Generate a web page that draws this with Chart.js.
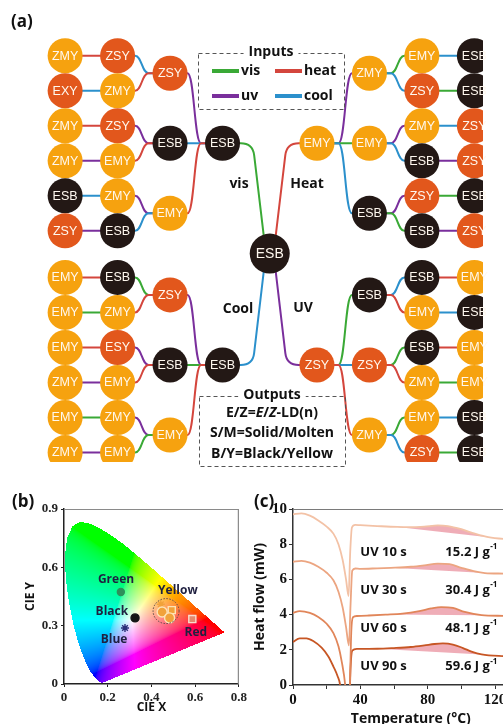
<!DOCTYPE html>
<html>
<head>
<meta charset="utf-8">
<title>Photo-thermal logic tree, CIE and DSC</title>
<script src="https://cdn.jsdelivr.net/npm/chart.js@4.4.1/dist/chart.umd.min.js"></script>
<style>
  html, body { margin: 0; padding: 0; background: #fff; }
  #page { position: relative; width: 503px; height: 724px; overflow: hidden; }
  canvas { position: absolute; }
</style>
</head>
<body>
<div id="page">
  <canvas id="treeChart" width="503" height="482" style="left:0;top:0;width:503px;height:482px"></canvas>
  <canvas id="cieChart" width="250" height="250" style="left:0;top:482px;width:250px;height:250px"></canvas>
  <canvas id="dscChart" width="290" height="250" style="left:250px;top:482px;width:290px;height:250px"></canvas>
</div>
<script>
// ---- (a) logic tree ----
const nodeLabels = ['ZMY','EXY','ZMY','ZMY','ESB','ZSY',
  'ZSY','ZMY','ZSY','EMY','ZMY','ESB',
  'ZSY','ESB','EMY','ESB',
  'ESB',
  'EMY','ZMY','EMY','ESB',
  'EMY','ZSY','ZMY','ESB','ZSY','ESB',
  'ESB','ESB','ZSY','ZSY','ESB','ZSY',
  'EMY','EMY','EMY','ZMY','EMY','ZMY',
  'ESB','ZMY','ESY','EMY','ZMY','EMY',
  'ZSY','ESB','EMY','ESB',
  'ZSY','ESB','ZSY','ZMY',
  'ESB','EMY','ESB','ZMY','EMY','ZSY',
  'EMY','ESB','EMY','EMY','ESB','ESB'];
const nodeCol = [0,0,0,0,0,0, 1,1,1,1,1,1, 2,2,2,3, 3.9, 4.8,5.8,5.8,5.8,
  6.8,6.8,6.8,6.8,6.8,6.8, 7.8,7.8,7.8,7.8,7.8,7.8,
  0,0,0,0,0,0, 1,1,1,1,1,1, 2,2,2,3, 4.8,5.8,5.8,5.8,
  6.8,6.8,6.8,6.8,6.8,6.8, 7.8,7.8,7.8,7.8,7.8,7.8];
const nodeRow = [0,1,2,3,4,5, 0,1,2,3,4,5, 0.5,2.5,4.5,2.5, 5.65, 2.5,0.5,2.5,4.5,
  0,1,2,3,4,5, 0,1,2,3,4,5,
  6.33,7.33,8.33,9.33,10.33,11.33, 6.33,7.33,8.33,9.33,10.33,11.33,
  6.83,8.83,10.83,8.83, 8.83,6.83,8.83,10.83,
  6.33,7.33,8.33,9.33,10.33,11.33, 6.33,7.33,8.33,9.33,10.33,11.33];
const CENTER = 16;

const edgeFrom = [0,1,2,3,4,5, 6,7,8,9,10,11, 12,13,14, 15, 16, 17,17,17,
  18,18,19,19,20,20, 21,22,23,24,25,26, 16, 45,46,47,
  39,40,41,42,43,44, 33,34,35,36,37,38, 16, 49,49,49,
  50,50,51,51,52,52, 53,54,55,56,57,58];
const edgeTo = [6,7,8,9,10,11, 12,12,13,13,14,14, 15,15,15, 16, 17, 18,19,20,
  21,22,23,24,25,26, 27,28,29,30,31,32, 48, 48,48,48,
  45,45,46,46,47,47, 39,40,41,42,43,44, 49, 50,51,52,
  53,54,55,56,57,58, 59,60,61,62,63,64];
const edgeInput = ['heat','cool','heat','uv','cool','uv', 'cool','heat','uv','heat','uv','cool',
  'uv','cool','heat', 'vis', 'heat', 'uv','vis','cool',
  'vis','cool','uv','cool','uv','vis', 'cool','vis','cool','uv','vis','uv', 'cool', 'uv','vis','heat',
  'vis','heat','uv','heat','uv','vis', 'heat','vis','heat','uv','vis','uv', 'uv', 'vis','cool','heat',
  'cool','heat','vis','heat','vis','cool', 'heat','cool','heat','vis','cool','vis'];

const inputColor = { vis: '#3aa936', heat: '#d4463d', uv: '#7a2f9c', cool: '#2b90cc' };
function nodeFill(lbl) {
  if (lbl[2] === 'B') return '#231815';
  if (lbl[1] === 'M') return '#f6a20f';
  return '#e2571c';
}

const edgePlugin = {
  id: 'edges',
  beforeDatasetsDraw(chart) {
    const { ctx, scales: { x, y } } = chart;
    const R = 17.5;
    const px = i => x.getPixelForValue(nodeCol[i]);
    const py = i => y.getPixelForValue(nodeRow[i]);
    ctx.save();
    ctx.lineWidth = 2;
    ctx.lineJoin = 'round';
    edgeFrom.forEach((a, k) => {
      const b = edgeTo[k];
      ctx.strokeStyle = inputColor[edgeInput[k]];
      ctx.beginPath();
      if (a === CENTER || b === CENTER) {
        const s = a === CENTER ? b : a;
        const sx = px(s), sy = py(s), cx = px(CENTER), cy = py(CENTER);
        const dx = Math.sign(sx - cx), dy = Math.sign(sy - cy);
        const ex = cx + 6 * dx, ey = cy + 18 * dy;
        const kx = ex + 11 * dx, ky = sy;
        const len = Math.hypot(ex - kx, ey - ky);
        const ux = (ex - kx) / len, uy = (ey - ky) / len;
        const rr = 12;
        ctx.moveTo(sx, sy);
        ctx.lineTo(kx + rr * dx, ky);
        ctx.quadraticCurveTo(kx, ky, kx + rr * ux, ky + rr * uy);
        ctx.lineTo(ex, ey);
        ctx.lineTo(cx, cy);
      } else if (Math.abs(nodeRow[a] - nodeRow[b]) < 0.01) {
        ctx.moveTo(px(a), py(a));
        ctx.lineTo(px(b), py(b));
      } else {
        const cc = nodeCol[CENTER];
        const parent = Math.abs(nodeCol[a] - cc) < Math.abs(nodeCol[b] - cc) ? a : b;
        const child = parent === a ? b : a;
        const x1 = px(child), y1 = py(child), x2 = px(parent), y2 = py(parent);
        const dir = Math.sign(x2 - x1);
        const sxp = x1 + R * dir, jx = x2 - (R + 4) * dir, mid = (sxp + jx) / 2;
        ctx.moveTo(x1, y1);
        ctx.lineTo(sxp, y1);
        ctx.bezierCurveTo(mid, y1, mid, y2, jx, y2);
        ctx.lineTo(x2, y2);
      }
      ctx.stroke();
    });
    ctx.restore();
  }
};

const nodeTextPlugin = {
  id: 'nodeText',
  afterDatasetsDraw(chart) {
    const { ctx } = chart;
    const meta = chart.getDatasetMeta(0);
    ctx.save();
    ctx.fillStyle = '#fff8ef';
    ctx.textAlign = 'center';
    ctx.textBaseline = 'middle';
    meta.data.forEach((pt, i) => {
      ctx.font = (i === CENTER ? '14px' : '12.5px') + ' "Liberation Sans", Arial, sans-serif';
      ctx.fillText(nodeLabels[i], pt.x, pt.y + 0.5);
    });
    ctx.restore();
  }
};

function dashedBox(ctx, l, t, r, b, title) {
  ctx.save();
  ctx.setLineDash([4, 3]);
  ctx.strokeStyle = '#555';
  ctx.lineWidth = 1;
  ctx.strokeRect(l + 0.5, t + 0.5, r - l, b - t);
  ctx.setLineDash([]);
  ctx.font = 'bold 14px "Open Sans"';
  const tw = ctx.measureText(title).width;
  const cx = (l + r) / 2;
  ctx.fillStyle = '#fff';
  ctx.fillRect(cx - tw / 2 - 5, t - 3, tw + 10, 7);
  ctx.fillStyle = '#111';
  ctx.textAlign = 'center';
  ctx.textBaseline = 'middle';
  ctx.fillText(title, cx, t - 1);
  ctx.restore();
}

const boxPlugin = {
  id: 'boxes',
  afterDraw(chart) {
    const ctx = chart.ctx;
    ctx.save();
    ctx.fillStyle = '#111';
    ctx.textBaseline = 'middle';
    ctx.font = 'bold 17px "Open Sans"';
    ctx.fillText('(a)', 11, 22);

    dashedBox(ctx, 198, 53, 344, 109, 'Inputs');
    [['vis', 212, 71], ['heat', 275, 71], ['uv', 212, 96], ['cool', 275, 96]].forEach(([n, lx, ly]) => {
      ctx.strokeStyle = inputColor[n];
      ctx.lineWidth = 4;
      ctx.beginPath(); ctx.moveTo(lx, ly); ctx.lineTo(lx + 27, ly); ctx.stroke();
      ctx.fillStyle = '#111';
      ctx.font = 'bold 14px "Open Sans"';
      ctx.textAlign = 'left';
      ctx.fillText(n, lx + 29, ly);
    });

    dashedBox(ctx, 199, 396, 345, 466, 'Outputs');
    ctx.fillStyle = '#111';
    ctx.textAlign = 'left';
    const bold = 'bold 14px "Open Sans"', ital = 'italic bold 14px "Open Sans"';
    const parts = [['E/Z=', bold], ['E', ital], ['/', bold], ['Z', ital], ['-LD(n)', bold]];
    let tot = 0;
    parts.forEach(([s, f]) => { ctx.font = f; tot += ctx.measureText(s).width; });
    let xx = 272 - tot / 2;
    parts.forEach(([s, f]) => { ctx.font = f; ctx.fillText(s, xx, 413); xx += ctx.measureText(s).width; });
    ctx.font = bold;
    ctx.textAlign = 'center';
    ctx.fillText('S/M=Solid/Molten', 272, 433);
    ctx.fillText('B/Y=Black/Yellow', 272, 454);

    ctx.fillText('vis', 239, 184);
    ctx.fillText('Heat', 307, 184);
    ctx.fillText('Cool', 238, 309);
    ctx.fillText('UV', 303, 308);
    ctx.restore();
  }
};

Chart.defaults.animation = false;
Chart.defaults.font.family = '"Open Sans", sans-serif';
Chart.defaults.plugins.legend.display = false;
Chart.defaults.plugins.tooltip.enabled = false;

new Chart(document.getElementById('treeChart'), {
  type: 'scatter',
  data: {
    datasets: [{
      data: nodeLabels.map((l, i) => ({ x: nodeCol[i], y: nodeRow[i] })),
      pointRadius: nodeLabels.map((l, i) => i === CENTER ? 20 : 17.5),
      pointBackgroundColor: nodeLabels.map(nodeFill),
      pointBorderWidth: 0
    }]
  },
  options: {
    responsive: false,
    events: [],
    layout: { padding: 0 },
    scales: {
      x: { display: false, min: -0.86, max: 7.965 },
      y: { display: false, reverse: true, min: -1.02, max: 11.6 }
    }
  },
  plugins: [edgePlugin, nodeTextPlugin, boxPlugin]
});

// ---- (b) CIE 1931 ----
const locusX = [0.1741,0.1714,0.1644,0.1566,0.1440,0.1241,0.1096,0.0913,0.0687,0.0454,0.0235,0.0082,0.0039,0.0139,0.0389,0.0743,0.1142,0.1547,0.1929,0.2296,0.2658,0.3016,0.3373,0.3731,0.4087,0.4441,0.4788,0.5125,0.5448,0.5752,0.6029,0.6270,0.6658,0.6915,0.7190,0.7347];
const locusY = [0.0050,0.0051,0.0109,0.0177,0.0297,0.0578,0.0868,0.1327,0.2007,0.2950,0.4127,0.5384,0.6548,0.7502,0.8120,0.8338,0.8262,0.8059,0.7816,0.7543,0.7243,0.6923,0.6589,0.6245,0.5896,0.5547,0.5202,0.4866,0.4544,0.4242,0.3965,0.3725,0.3340,0.3083,0.2809,0.2653];

const cieNames = ['Green','Black','Blue','Yellow','Yellow','Yellow','Yellow','Red'];
const cieX = [0.26, 0.325, 0.279, 0.443, 0.449, 0.493, 0.483, 0.587];
const cieY = [0.473, 0.34, 0.288, 0.41, 0.37, 0.38, 0.34, 0.334];
const tagNames = ['Green','Black','Blue','Yellow','Red'];
const tagX = [0.238, 0.219, 0.229, 0.521, 0.603];
const tagY = [0.535, 0.37, 0.231, 0.483, 0.267];

const markerStyle = ['circle','circle','star','star','circle','rect','circle','rect'];
const markerSize = [3.5, 4, 4, 4, 5, 5, 5, 5];
const markerFill = ['#2f8f5b','#161616','#2b2f7a','#f1a23a','#f1a23a','#f1a23a','#f1a23a','#e48a6c'];
const markerEdge = ['#2f8f5b','#161616','#2b2f7a','#f1a23a','#fde3b6','#fde3b6','#fde3b6','#f8dccd'];

function insideLocus(x, y) {
  let inside = false;
  for (let i = 0, j = locusX.length - 1; i < locusX.length; j = i++) {
    const xi = locusX[i], yi = locusY[i], xj = locusX[j], yj = locusY[j];
    if ((yi > y) !== (yj > y) && x < (xj - xi) * (y - yi) / (yj - yi) + xi) inside = !inside;
  }
  return inside;
}
function gam(c) { return c <= 0.0031308 ? 12.92 * c : 1.055 * Math.pow(c, 1 / 2.4) - 0.055; }
function xyToRgb(x, y) {
  const X = x / y, Y = 1, Z = (1 - x - y) / y;
  let r = Math.max(0, 3.2406 * X - 1.5372 * Y - 0.4986 * Z);
  let g = Math.max(0, -0.9689 * X + 1.8758 * Y + 0.0415 * Z);
  let b = Math.max(0, 0.0557 * X - 0.2040 * Y + 1.0570 * Z);
  const m = Math.max(r, g, b) || 1;
  return [gam(r / m) * 255, gam(g / m) * 255, gam(b / m) * 255];
}

const ciePlugin = {
  id: 'cie',
  beforeDatasetsDraw(chart) {
    const { ctx, chartArea: a, scales: { x, y } } = chart;
    const w = Math.round(a.right - a.left), h = Math.round(a.bottom - a.top);
    const off = document.createElement('canvas');
    off.width = w; off.height = h;
    const octx = off.getContext('2d');
    const img = octx.createImageData(w, h);
    for (let j = 0; j < h; j++) {
      for (let i = 0; i < w; i++) {
        const xv = x.getValueForPixel(a.left + i + 0.5), yv = y.getValueForPixel(a.top + j + 0.5);
        if (yv <= 0 || !insideLocus(xv, yv)) continue;
        const c = xyToRgb(xv, yv);
        const k = (j * w + i) * 4;
        img.data[k] = c[0]; img.data[k + 1] = c[1]; img.data[k + 2] = c[2]; img.data[k + 3] = 255;
      }
    }
    octx.putImageData(img, 0, 0);
    ctx.drawImage(off, a.left, a.top);
  },
  afterDatasetsDraw(chart) {
    const { ctx, chartArea: a, scales: { x, y } } = chart;
    ctx.save();
    ctx.strokeStyle = '#8a8a8a';
    ctx.lineWidth = 1.2;
    ctx.beginPath();
    ctx.moveTo(a.left, a.top + 0.5); ctx.lineTo(a.right - 0.5, a.top + 0.5); ctx.lineTo(a.right - 0.5, a.bottom);
    ctx.stroke();
    // dotted ring round the yellow group
    let mx = 0, my = 0, n = 0;
    cieNames.forEach((nm, i) => { if (nm === 'Yellow') { mx += cieX[i]; my += cieY[i]; n++; } });
    ctx.strokeStyle = '#5a4a4a';
    ctx.lineWidth = 1;
    ctx.setLineDash([1.5, 1.5]);
    ctx.beginPath();
    ctx.ellipse(x.getPixelForValue(mx / n), y.getPixelForValue(my / n), 13, 12.5, 0, 0, Math.PI * 2);
    ctx.stroke();
    ctx.setLineDash([]);
    ctx.fillStyle = '#1f2040';
    ctx.font = 'bold 12px "Open Sans"';
    ctx.textAlign = 'center';
    ctx.textBaseline = 'middle';
    tagNames.forEach((t, i) => ctx.fillText(t, x.getPixelForValue(tagX[i]), y.getPixelForValue(tagY[i])));
    ctx.fillStyle = '#111';
    ctx.font = 'bold 17px "Open Sans"';
    ctx.textAlign = 'left';
    ctx.fillText('(b)', 12, 20);
    ctx.restore();
  }
};

const tickFont = { family: '"Liberation Serif", "Times New Roman", serif', weight: 'bold', size: 13 };
new Chart(document.getElementById('cieChart'), {
  type: 'scatter',
  data: {
    datasets: [{
      data: cieX.map((v, i) => ({ x: v, y: cieY[i] })),
      pointStyle: markerStyle,
      pointRadius: markerSize,
      pointBackgroundColor: markerFill,
      pointBorderColor: markerEdge,
      pointBorderWidth: 1.4
    }]
  },
  options: {
    responsive: false,
    events: [],
    layout: { padding: { top: 27, right: 11, left: 0, bottom: 0 } },
    scales: {
      x: {
        min: 0, max: 0.8,
        afterFit: s => { s.height = 48; },
        ticks: { stepSize: 0.2, color: '#222', font: tickFont, padding: 3, maxRotation: 0,
          callback: v => v === 0 ? '0' : v.toFixed(1) },
        grid: { drawOnChartArea: false, tickLength: 3, color: '#222' },
        border: { color: '#222', width: 1.5 },
        title: { display: true, text: 'CIE X', color: '#111', font: { weight: 'bold', size: 12 }, padding: { top: 0, bottom: 17 } }
      },
      y: {
        min: 0, max: 0.9,
        afterFit: s => { s.width = 64; },
        ticks: { stepSize: 0.3, color: '#222', font: tickFont, padding: 3,
          callback: v => v === 0 ? '0' : v.toFixed(1) },
        grid: { drawOnChartArea: false, tickLength: 3, color: '#222' },
        border: { color: '#222', width: 1.5 },
        title: { display: true, text: 'CIE Y', color: '#111', font: { weight: 'bold', size: 12 }, padding: { top: 23, bottom: 0 } }
      }
    }
  },
  plugins: [ciePlugin]
});

// ---- (c) DSC ----
const uv10T = [0, 5, 10, 15, 20, 24, 27, 29.5, 31.5, 33, 34, 35, 37, 40, 50, 62, 70, 78, 86, 92, 100, 108, 116, 125, 140];
const uv10H = [9.7, 9.75, 9.62, 9.35, 9.0, 8.6, 8.0, 7.1, 6.0, 5.05, 7.6, 8.95, 9.1, 9.08, 9.03, 8.98, 8.97, 9.0, 9.07, 9.03, 8.85, 8.6, 8.4, 8.3, 8.25];
const uv30T = [0, 5, 10, 15, 20, 24, 27, 29.5, 31.5, 33.2, 34.2, 35.2, 37, 40, 50, 58, 70, 78, 86, 93, 100, 108, 114, 125, 140];
const uv30H = [7.0, 7.05, 6.95, 6.72, 6.38, 5.95, 5.3, 4.4, 3.3, 2.25, 4.6, 6.5, 6.62, 6.6, 6.63, 6.66, 6.72, 6.8, 6.9, 6.87, 6.66, 6.45, 6.36, 6.33, 6.3];
const uv60T = [0, 4, 10, 15, 20, 24, 27, 29, 31, 32.5, 33.8, 34.6, 35.6, 38, 45, 55, 65, 75, 82, 88, 95, 102, 112, 125, 140];
const uv60H = [4.1, 4.2, 4.1, 3.87, 3.48, 2.95, 2.2, 1.3, 0, -2, 0, 3.0, 3.85, 3.92, 3.95, 4.0, 4.06, 4.2, 4.35, 4.43, 4.38, 4.15, 3.97, 3.93, 3.9];
const uv90T = [0, 4, 8, 12, 17, 21, 24, 26.5, 28, 30, 33.5, 34.2, 35.2, 38, 50, 60, 70, 78, 84, 89, 95, 101, 106, 112, 125, 140];
const uv90H = [2.45, 2.65, 2.65, 2.5, 2.12, 1.62, 1.05, 0.5, 0, -2, -1, 1.0, 1.95, 2.05, 2.06, 2.1, 2.16, 2.25, 2.33, 2.36, 2.3, 2.1, 1.9, 1.74, 1.64, 1.6];
const shadeFrom = [62, 58, 55, 50];
const shadeTo = [116, 114, 112, 112];
const runNames = ['UV 10 s', 'UV 30 s', 'UV 60 s', 'UV 90 s'];
const enthalpy = [15.2, 30.4, 48.1, 59.6];
const runLabelY = [7.55, 5.4, 3.25, 1.05];

const dscSeries = [[uv10T, uv10H], [uv30T, uv30H], [uv60T, uv60H], [uv90T, uv90H]];
const curveColors = ['#f3c2a6', '#eca581', '#e1865a', '#c75624'];

const dscText = {
  id: 'dscText',
  afterDatasetsDraw(chart) {
    const { ctx, chartArea: a, scales: { x, y } } = chart;
    ctx.save();
    ctx.strokeStyle = '#7a7a7a';
    ctx.lineWidth = 1.2;
    ctx.beginPath(); ctx.moveTo(a.left, a.top + 0.5); ctx.lineTo(a.right, a.top + 0.5); ctx.stroke();
    ctx.fillStyle = '#111';
    ctx.textBaseline = 'middle';
    ctx.textAlign = 'left';
    runNames.forEach((r, i) => {
      const py = y.getPixelForValue(runLabelY[i]);
      ctx.font = 'bold 13px "Open Sans"';
      ctx.fillText(r, x.getPixelForValue(40), py);
      const base = enthalpy[i].toFixed(1) + ' J g';
      const px = x.getPixelForValue(90.5);
      ctx.fillText(base, px, py);
      const w = ctx.measureText(base).width;
      ctx.font = 'bold 8px "Open Sans"';
      ctx.fillText('-1', px + w + 0.5, py - 5);
    });
    ctx.font = 'bold 17px "Open Sans"';
    ctx.fillText('(c)', 4, 20);
    ctx.restore();
  }
};

new Chart(document.getElementById('dscChart'), {
  type: 'scatter',
  data: {
    datasets: dscSeries.map(([t, h], i) => ({
      data: t.map((v, k) => ({ x: v, y: h[k] })),
      showLine: true,
      borderColor: curveColors[i],
      borderWidth: 1.8,
      pointRadius: 0,
      cubicInterpolationMode: 'monotone',
      fill: false,
      order: 0
    })).concat(dscSeries.map(([t, h], i) => ({
      data: t.map((v, k) => ({ x: v, y: h[k] })).filter(p => p.x >= shadeFrom[i] && p.x <= shadeTo[i]),
      showLine: true,
      borderColor: 'rgba(0,0,0,0)',
      borderWidth: 1,
      backgroundColor: 'rgba(233,141,155,0.72)',
      pointRadius: 0,
      cubicInterpolationMode: 'monotone',
      fill: 'shape',
      order: 1
    })))
  },
  options: {
    responsive: false,
    events: [],
    layout: { padding: { top: 27, right: 11.3, left: 0, bottom: 0 } },
    scales: {
      x: {
        min: 0, max: 140,
        afterFit: s => { s.height = 47; },
        ticks: { stepSize: 20, color: '#111', font: { family: tickFont.family, weight: 'bold', size: 15 }, padding: 2, maxRotation: 0,
          callback: v => v % 40 === 0 ? v : '' },
        grid: { drawOnChartArea: false, tickLength: 4, color: '#333' },
        border: { color: '#333', width: 1.5 },
        title: { display: true, text: 'Temperature (°C)', color: '#111', font: { weight: 'bold', size: 14 }, padding: { top: 0, bottom: 5 } }
      },
      y: {
        min: 0, max: 10,
        afterFit: s => { s.width = 43; },
        ticks: { stepSize: 1, color: '#111', font: { family: tickFont.family, weight: 'bold', size: 15 }, padding: 2,
          callback: v => v % 2 === 0 ? v : '' },
        grid: { drawOnChartArea: false, tickLength: 4, color: '#333' },
        border: { color: '#333', width: 1.5 },
        title: { display: true, text: 'Heat flow (mW)', color: '#111', font: { weight: 'bold', size: 14 }, padding: { top: 2, bottom: 0 } }
      }
    }
  },
  plugins: [dscText]
});
</script>
</body>
</html>
